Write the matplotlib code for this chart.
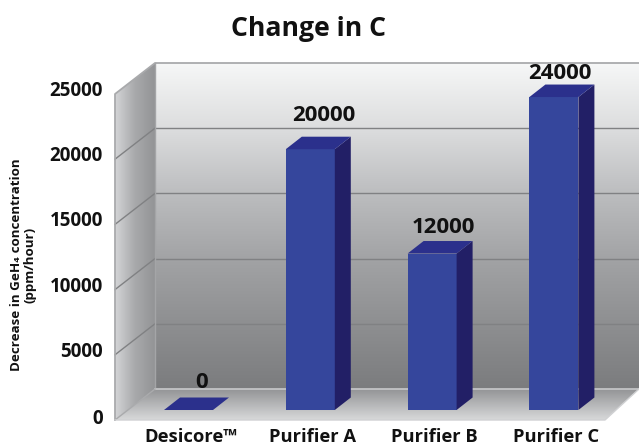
#!/usr/bin/env python
"""Change in C: fake 3D bar chart, drawn on a flat axes with depth offsets."""
import matplotlib; matplotlib.use("Agg")
import matplotlib.pyplot as plt
import numpy as np
from matplotlib.colors import LinearSegmentedColormap
from matplotlib.patches import Polygon

plt.rcParams["font.family"] = ["Open Sans", "DejaVu Sans"]
plt.rcParams["font.weight"] = "bold"

categories = ["Desicore™", "Purifier A", "Purifier B", "Purifier C"]
values = [0, 20000, 12000, 24000]
ticks = [0, 5000, 10000, 15000, 20000, 25000]
# label nudges in px (x from bar centre, y above bar top)
label_dx = [13.5, 13.5, 11, 6]
label_gap = [5, 11, 3, 1]

W, H = 639, 447
PX_PER_UNIT = 0.01304   # px per ppm/hour
PX_PER_CAT = 121.8
X0, Y0 = 188.5, 410     # pixel of first bar centre, bar base

fig = plt.figure(figsize=(W / 100, H / 100), dpi=100)
ax = fig.add_axes([0, 0, 1, 1])
ax.set_xlim(-X0 / PX_PER_CAT, (W - X0) / PX_PER_CAT)
ax.set_ylim((Y0 - H) / PX_PER_UNIT, Y0 / PX_PER_UNIT)
ax.axis("off")


def dx(px):
    return px / PX_PER_CAT


def dy(px):
    return px / PX_PER_UNIT


# room corners, as data positions relative to the bar plane
wall_l = -X0 / PX_PER_CAT + dx(115)
wall_b = -X0 / PX_PER_CAT + dx(155)
right_f = -X0 / PX_PER_CAT + dx(605)
right_b = -X0 / PX_PER_CAT + dx(639)
top = ticks[-1]
front_off, back_off = dy(-10), dy(21)


def gradient(colors, extent, clip, vertical=True):
    cmap = LinearSegmentedColormap.from_list("g", colors)
    g = np.linspace(0, 1, 256)
    g = g.reshape(-1, 1) if vertical else g.reshape(1, -1)
    im = ax.imshow(g, cmap=cmap, extent=extent, origin="upper", aspect="auto", zorder=1)
    patch = Polygon(clip, closed=True, transform=ax.transData, fc="none", ec="none")
    ax.add_patch(patch)
    im.set_clip_path(patch)


# back wall
bw = [(wall_b, back_off), (right_b, back_off), (right_b, top + back_off), (wall_b, top + back_off)]
gradient(["#f6f7f7", "#dcddde", "#bcbdbf", "#a2a3a5", "#8e8f91", "#7b7c7e"],
         (wall_b, right_b, back_off, top + back_off), bw)
# left wall
lw = [(wall_l, front_off), (wall_b, back_off), (wall_b, top + back_off), (wall_l, top + front_off)]
gradient(["#d4d5d7", "#a8a9ab", "#939496"], (wall_l, wall_b, front_off, top + back_off), lw, vertical=False)
# floor
fl = [(wall_l, front_off), (right_f, front_off), (right_b, back_off), (wall_b, back_off)]
gradient(["#939496", "#d8d9da"], (wall_l, right_b, front_off, back_off), fl)

ax.set_xlim(-X0 / PX_PER_CAT, (W - X0) / PX_PER_CAT)
ax.set_ylim((Y0 - H) / PX_PER_UNIT, Y0 / PX_PER_UNIT)

for t in ticks[1:-1]:
    ax.plot([wall_b, right_b], [t + back_off] * 2, color="#808183", lw=1.0, zorder=2)
    ax.plot([wall_l, wall_b], [t + front_off, t + back_off], color="#808183", lw=1.0, zorder=2)
edge = "#a9aaac"
ax.plot([wall_l, wall_l, wall_b, right_b], [front_off, top + front_off, top + back_off, top + back_off],
        color=edge, lw=1.3, zorder=2)
ax.plot([wall_b, wall_b], [back_off, top + back_off], color="#a4a5a7", lw=1.0, zorder=2)
ax.plot([wall_b, right_b], [back_off, back_off], color="#c3c4c6", lw=1.3, zorder=2)
ax.plot([wall_l, wall_b], [front_off, back_off], color=edge, lw=1.0, zorder=2)
ax.plot([wall_l, right_f, right_b], [front_off, front_off, back_off], color="#d0d1d3", lw=1.0, zorder=2)

# bars
half = dx(24.5)
ddx, ddy = dx(16), dy(12.5)
for i, v in enumerate(values):
    l, r = i - half, i + half
    ax.add_patch(Polygon([(l, 0), (r, 0), (r, v), (l, v)], fc="#35469c", ec="none", zorder=3))
    ax.add_patch(Polygon([(r, 0), (r + ddx, ddy), (r + ddx, v + ddy), (r, v)], fc="#221f66", ec="none", zorder=3))
    ax.add_patch(Polygon([(l, v), (r, v), (r + ddx, v + ddy), (l + ddx, v + ddy)], fc="#2b308c", ec="none", zorder=3))
    ax.text(i + dx(label_dx[i]), v + ddy + dy(label_gap[i]), f"{v}", ha="center", va="bottom",
            fontsize=16, color="#111111", zorder=4)
    ax.text(i + dx(2), dy(-32), categories[i], ha="center", va="baseline", fontsize=13.2, color="#111111")

for t in ticks:
    ax.text(wall_l - dx(12), t + dy(-7 if t else -9), f"{t}", ha="right", va="center", fontsize=13.5, color="#111111")

ax.text(wall_l - dx(92), dy(145), "Decrease in GeH\u2084 concentration\n(ppm/hour)", rotation=90,
        ha="center", va="center", ma="center", fontsize=9.6, linespacing=1.05, color="#111111")
ax.text(-X0 / PX_PER_CAT + dx(308), dy(381), "Change in C", ha="center", va="center", fontsize=19.2, color="#111111")

fig.savefig("out.png", dpi=100)
